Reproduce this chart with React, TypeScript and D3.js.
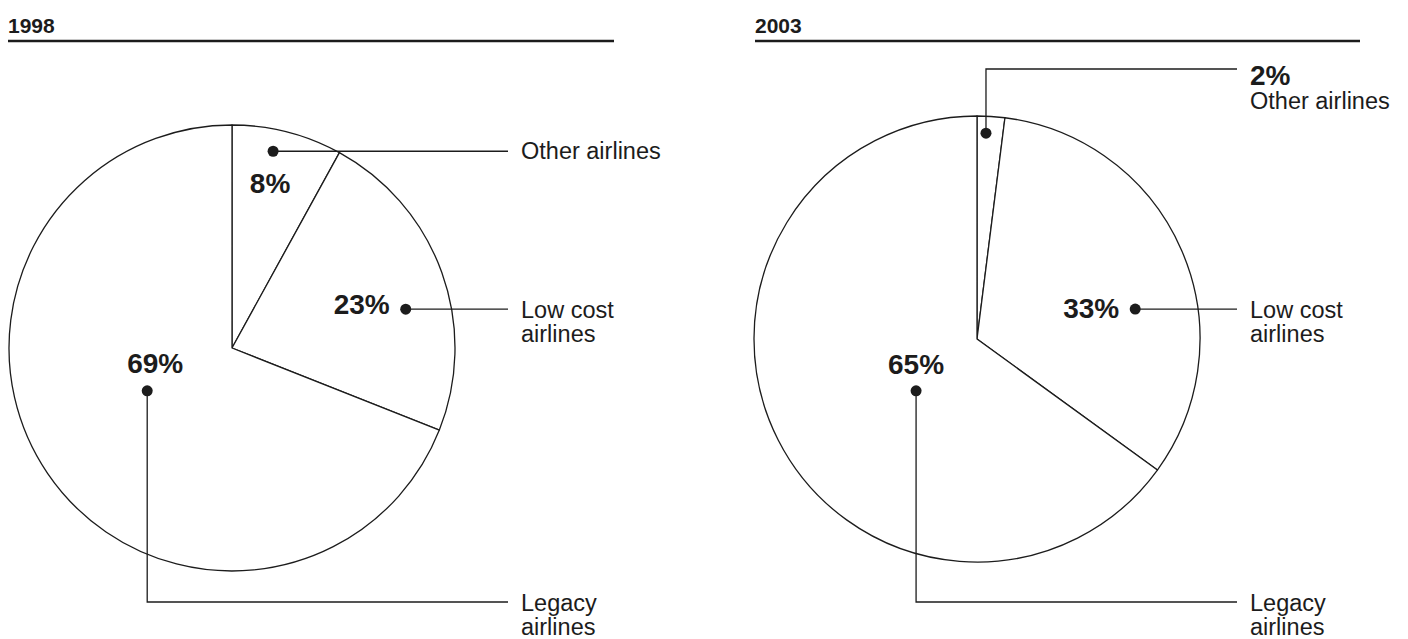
import * as d3 from "d3";
import React, { useEffect, useRef } from "react";

const W = 1408;
const H = 639;

const years = ["1998", "2003"];
const categories = ["Other airlines", "Low cost airlines", "Legacy airlines"];
const shares1998 = [8, 23, 69];
const shares2003 = [2, 33, 65];

const font = "'Liberation Sans', Arial, Helvetica, sans-serif";
const ink = "#1c1c1c";

// per panel layout: title rule, pie centre, where the leaders end
const panels = [
    { x0: 8, x1: 614, cx: 232, cy: 348, r: 223, leadEnd: 508, textX: 521, values: shares1998 },
    { x0: 755, x1: 1360, cx: 977, cy: 339, r: 223, leadEnd: 1237, textX: 1250, values: shares2003 },
];

// dot anchors, polar (deg from 12 o'clock, radius) and how the label is routed
const anchors = [
    [
        { a: 11.8, d: 201, route: "right", pct: "below", pdx: -3, pdy: 42 },
        { a: 77.4, d: 178, route: "right", pct: "left", pdx: -16, pdy: 5 },
        { a: 243.2, d: 95, route: "down", pct: "above", pdx: 8, pdy: -18 },
    ],
    [
        { a: 2.5, d: 206, route: "up", pct: "inline", pdx: 0, pdy: 0 },
        { a: 79.3, d: 161, route: "right", pct: "left", pdx: -16, pdy: 9 },
        { a: 229.6, d: 80, route: "down", pct: "above", pdx: 0, pdy: -17 },
    ],
];

const upY = 69;
const downY = 602;

export default function App() {
    const svgRef = useRef<SVGSVGElement | null>(null);

    useEffect(() => {
        if (!svgRef.current) return;
        const svg = d3.select(svgRef.current);
        svg.selectAll("*").remove();

        const pie = d3.pie<number>().sort(null).value((d) => d);

        panels.forEach((p, pi) => {
            const g = svg.append("g");

            /* ---------- title ---------- */
            g.append("text")
                .attr("x", p.x0)
                .attr("y", 33)
                .attr("font-family", font)
                .attr("font-weight", "bold")
                .attr("font-size", "21px")
                .attr("fill", ink)
                .text(years[pi]);

            g.append("line")
                .attr("x1", p.x0)
                .attr("x2", p.x1)
                .attr("y1", 41)
                .attr("y2", 41)
                .attr("stroke", ink)
                .attr("stroke-width", 2.5);

            /* ---------- pie ---------- */
            const arc = d3.arc<d3.PieArcDatum<number>>().innerRadius(0).outerRadius(p.r);
            const pg = g.append("g").attr("transform", `translate(${p.cx},${p.cy})`);
            pg.selectAll("path")
                .data(pie(p.values))
                .join("path")
                .attr("d", arc)
                .attr("fill", "#fff")
                .attr("stroke", ink)
                .attr("stroke-width", 1.3)
                .attr("stroke-linejoin", "round");

            /* ---------- labels ---------- */
            anchors[pi].forEach((an, i) => {
                const [dx, dy] = d3.pointRadial((an.a * Math.PI) / 180, an.d);
                const x = p.cx + dx;
                const y = p.cy + dy;
                const name = categories[i].replace(" airlines", "");
                const pct = `${p.values[i]}%`;

                let pts: [number, number][];
                let ty: number;
                if (an.route === "right") {
                    pts = [[x, y], [p.leadEnd, y]];
                    ty = y;
                } else if (an.route === "up") {
                    pts = [[x, y], [x, upY], [p.leadEnd, upY]];
                    ty = upY;
                } else {
                    pts = [[x, y], [x, downY], [p.leadEnd, downY]];
                    ty = downY;
                }

                g.append("path")
                    .attr("d", d3.line()(pts))
                    .attr("fill", "none")
                    .attr("stroke", ink)
                    .attr("stroke-width", 1.3);

                g.append("circle")
                    .attr("cx", x)
                    .attr("cy", y)
                    .attr("r", 5.5)
                    .attr("fill", ink);

                const label = g.append("text")
                    .attr("font-family", font)
                    .attr("font-size", "23.5px")
                    .attr("fill", ink);

                const pt = g.append("text")
                    .attr("font-family", font)
                    .attr("font-weight", "bold")
                    .attr("font-size", "28px")
                    .attr("fill", ink)
                    .text(pct);

                if (an.pct === "inline") {
                    pt.attr("x", p.textX).attr("y", ty + 16);
                    label.append("tspan").attr("x", p.textX).attr("y", ty + 40).text(categories[i]);
                    return;
                }

                if (name === "Other") {
                    label.append("tspan").attr("x", p.textX).attr("y", ty + 8).text(categories[i]);
                } else {
                    label.append("tspan").attr("x", p.textX).attr("y", ty + 8.5).text(name);
                    label.append("tspan").attr("x", p.textX).attr("y", ty + 32.5).text("airlines");
                }

                pt.attr("x", x + an.pdx)
                    .attr("y", y + an.pdy)
                    .attr("text-anchor", an.pct === "left" ? "end" : "middle");
            });
        });
    }, []);

    return (
        <svg
            ref={svgRef}
            width={W}
            height={H}
            viewBox={`0 0 ${W} ${H}`}
            style={{ position: "absolute", left: 0, top: 0, background: "#fff" }}
        />
    );
}
